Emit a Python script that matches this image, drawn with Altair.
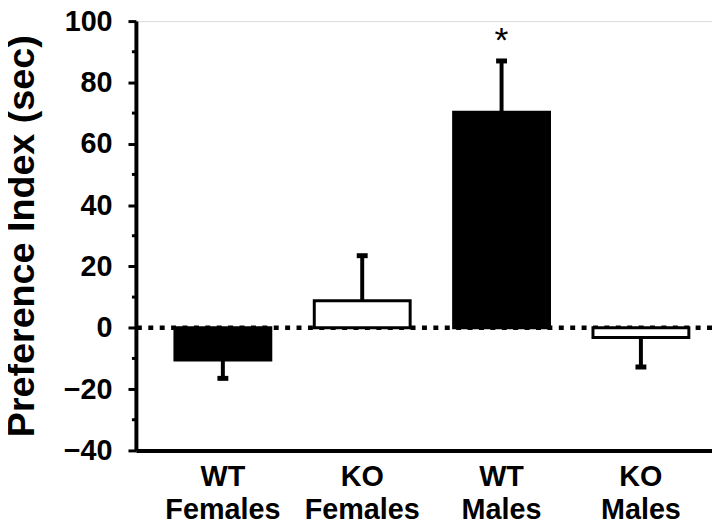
import altair as alt
import pandas as pd

groups = ["WT Females", "KO Females", "WT Males", "KO Males"]
means = [-10.5, 8.8, 70.3, -3.2]
err_end = [-16.5, 23.5, 87.0, -12.8]
fills = ["black", "white", "black", "white"]
sig = ["", "", "*", ""]
y_ticks = [-40, -20, 0, 20, 40, 60, 80, 100]
minor_ticks = [-30, -10, 10, 30, 50, 70, 90]

df = pd.DataFrame({"group": groups, "mean": means, "err": err_end,
                   "fill": fills, "sig": sig})
minor_df = pd.DataFrame({"v": minor_ticks})
zero_df = pd.DataFrame({"v": [0]})

FONT = "Liberation Sans"

xscale = alt.Scale(range=[0, 597], paddingInner=0.312, paddingOuter=0.28)
xenc = alt.X("group:N", sort=groups, scale=xscale,
             axis=alt.Axis(title=None, ticks=False, tickSize=0, domainWidth=4,
                           domainColor="black", labelAngle=0,
                           labelExpr="split(datum.label, ' ')",
                           labelFont=FONT, labelFontSize=29, labelFontWeight="bold",
                           labelColor="black", labelPadding=12, labelLineHeight=34))
yscale = alt.Scale(domain=[-40, 100], nice=False, zero=False)
yaxis = alt.Axis(title="Preference Index (sec)", values=y_ticks, grid=False,
                 tickSize=8, tickWidth=3, tickColor="black", domainWidth=4,
                 domainColor="black", labelFont=FONT, labelFontSize=29,
                 labelFontWeight="bold", labelColor="black", labelPadding=16,
                 titleFont=FONT, titleFontSize=38, titleFontWeight="bold",
                 titleColor="black", titlePadding=22)

base = alt.Chart(df)

bars = base.mark_bar(stroke="black", strokeWidth=3).encode(
    x=xenc,
    y=alt.Y("mean:Q", scale=yscale, axis=yaxis),
    y2=alt.datum(0),
    fill=alt.Fill("fill:N", scale=None),
)

zero_line = alt.Chart(zero_df).mark_rule(
    strokeDash=[5, 6.5], strokeWidth=4.5, color="black"
).encode(y=alt.Y("v:Q", scale=yscale))

err_rule = base.mark_rule(strokeWidth=4, color="black").encode(
    x=alt.X("group:N", sort=groups),
    y=alt.Y("mean:Q", scale=yscale),
    y2="err:Q",
)

caps = base.mark_tick(size=11, thickness=5, color="black", opacity=1,
                      orient="horizontal").encode(
    x=alt.X("group:N", sort=groups),
    y=alt.Y("err:Q", scale=yscale),
)

star = base.mark_text(font=FONT, fontSize=36, baseline="alphabetic",
                      align="center", color="black", dy=-9).encode(
    x=alt.X("group:N", sort=groups),
    y=alt.Y("err:Q", scale=yscale),
    text="sig:N",
)

minor = alt.Chart(minor_df).mark_rule(strokeWidth=3, color="black").encode(
    x=alt.value(-4), x2=alt.value(0),
    y=alt.Y("v:Q", scale=yscale),
)

chart = alt.layer(zero_line, bars, err_rule, caps, star, minor).properties(
    width=581, height=433,
    autosize=alt.AutoSizeParams(type="none"),
    padding={"left": 129, "top": 11, "right": 0, "bottom": 72},
).configure_view(stroke=None).configure(background="white")

chart.save("out.html", embed_options={"renderer": "svg", "actions": False})
